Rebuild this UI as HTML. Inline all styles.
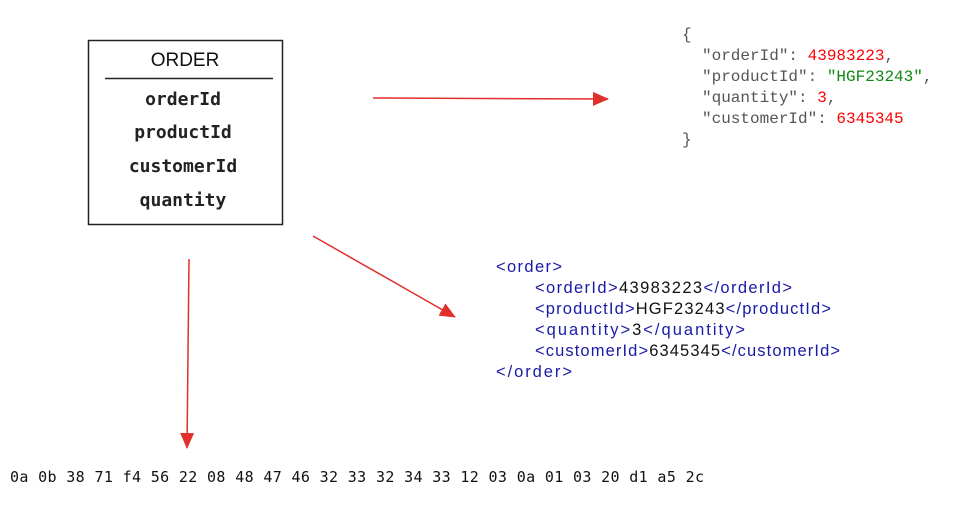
<!DOCTYPE html>
<html><head><meta charset="utf-8"><style>
html,body{margin:0;padding:0;background:#fff;width:969px;height:514px;overflow:hidden}
</style></head><body>
<svg width="969" height="514" xmlns="http://www.w3.org/2000/svg">
<defs><marker id="b" markerWidth="16" markerHeight="14" refX="15" refY="7" orient="auto" markerUnits="userSpaceOnUse"><path d="M0,0 L16,7 L0,14 Z" fill="#e0302c"/></marker></defs>
<rect x="88.5" y="40.5" width="194" height="184" fill="#fff" stroke="#222" stroke-width="1.5"/>
<text x="185" y="66" text-anchor="middle" font-family="Liberation Sans, sans-serif" font-size="19" fill="#111">ORDER</text>
<line x1="105" y1="78.5" x2="273" y2="78.5" stroke="#222" stroke-width="1.5"/>
<g font-family="DejaVu Sans Mono, monospace" font-size="18" font-weight="bold" fill="#222" text-anchor="middle">
<text x="183" y="105">orderId</text>
<text x="183" y="138">productId</text>
<text x="183" y="172">customerId</text>
<text x="183" y="206">quantity</text>
</g>
<g font-family="Liberation Mono, monospace" font-size="16" fill="#555">
<text x="682" y="39">{</text>
<text x="702" y="60">"orderId": <tspan fill="#f00">43983223</tspan>,</text>
<text x="702" y="81">"productId": <tspan fill="#118811">"HGF23243"</tspan>,</text>
<text x="702" y="102">"quantity": <tspan fill="#f00">3</tspan>,</text>
<text x="702" y="123">"customerId": <tspan fill="#f00">6345345</tspan></text>
<text x="682" y="144">}</text>
</g>
<g font-family="Liberation Sans, sans-serif" font-size="16.5" fill="#1a1aa6">
<text x="496" y="272" textLength="66">&lt;order&gt;</text>
<text x="535" y="293" textLength="257">&lt;orderId&gt;<tspan fill="#111">43983223</tspan>&lt;/orderId&gt;</text>
<text x="535" y="314" textLength="296">&lt;productId&gt;<tspan fill="#111">HGF23243</tspan>&lt;/productId&gt;</text>
<text x="535" y="335" textLength="210">&lt;quantity&gt;<tspan fill="#111">3</tspan>&lt;/quantity&gt;</text>
<text x="535" y="356" textLength="305">&lt;customerId&gt;<tspan fill="#111">6345345</tspan>&lt;/customerId&gt;</text>
<text x="496" y="377" textLength="76">&lt;/order&gt;</text>
</g>
<text x="10" y="482" font-family="DejaVu Sans Mono, monospace" font-size="15" fill="#111" textLength="694">0a 0b 38 71 f4 56 22 08 48 47 46 32 33 32 34 33 12 03 0a 01 03 20 d1 a5 2c</text>
<g stroke="#e0302c" stroke-width="1.5" fill="none">
<line x1="373" y1="98" x2="608" y2="99" marker-end="url(#b)"/>
<line x1="313" y1="236" x2="455" y2="317" marker-end="url(#b)"/>
<line x1="189" y1="259" x2="187" y2="448" marker-end="url(#b)"/>
</g>
</svg>
</body></html>
